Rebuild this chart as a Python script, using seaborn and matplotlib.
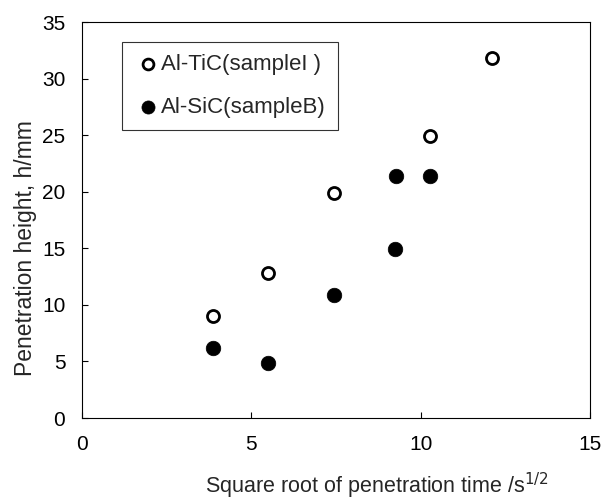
import matplotlib
matplotlib.use("Agg")
import matplotlib.pyplot as plt
import seaborn as sns
import pandas as pd

tic_x = [3.87, 5.5, 7.44, 10.29, 12.1]
tic_y = [9.0, 12.8, 19.9, 24.9, 31.8]
sic_x = [3.87, 5.48, 7.43, 9.24, 9.26, 10.29]
sic_y = [6.2, 4.9, 10.9, 14.9, 21.4, 21.4]
tic_label = "Al-TiC(sampleI )"
sic_label = "Al-SiC(sampleB)"

sns.set_theme(style="white")
plt.rcParams['font.family'] = ['Liberation Sans', 'DejaVu Sans']

fig = plt.figure(figsize=(6.12, 5.0), dpi=100)
ax = fig.add_axes([0.134, 0.164, 0.830, 0.792])

df_tic = pd.DataFrame({"x": tic_x, "y": tic_y})
df_sic = pd.DataFrame({"x": sic_x, "y": sic_y})

sns.scatterplot(data=df_tic, x="x", y="y", ax=ax, s=75, marker="o",
                facecolor="white", edgecolor="black", linewidth=2.0,
                label=tic_label, zorder=3)
sns.scatterplot(data=df_sic, x="x", y="y", ax=ax, s=110, marker="o",
                color="black", edgecolor="black", linewidth=0.5,
                label=sic_label, zorder=3)

ax.set_xlim(0, 15)
ax.set_ylim(0, 35)
ax.set_xticks([0, 5, 10, 15])
ax.set_yticks([0, 5, 10, 15, 20, 25, 30, 35])
ax.tick_params(direction="in", length=4, width=0.8, colors="black",
               labelsize=15, bottom=True, left=True, top=False, right=False)
ax.tick_params(axis="x", pad=12)
ax.tick_params(axis="y", pad=12)
ax.set_xlabel("Square root of penetration time /s$^{1/2}$", fontsize=15.5)
ax.set_ylabel("Penetration height, h/mm", fontsize=16.5)
ax.xaxis.set_label_coords(0.58, -0.133)
ax.yaxis.set_label_coords(-0.088, 0.43)
for sp in ax.spines.values():
    sp.set_color("black")
    sp.set_linewidth(0.8)
ax.grid(False)

leg = ax.legend(loc="upper left", bbox_to_anchor=(0.079, 0.95), fontsize=16,
                frameon=True, fancybox=False, edgecolor="black",
                handletextpad=0.0, borderpad=0.55, labelspacing=1.0,
                handlelength=1.2, borderaxespad=0, markerscale=0.9)
leg.get_frame().set_linewidth(0.8)

fig.savefig("out.png", dpi=100)
